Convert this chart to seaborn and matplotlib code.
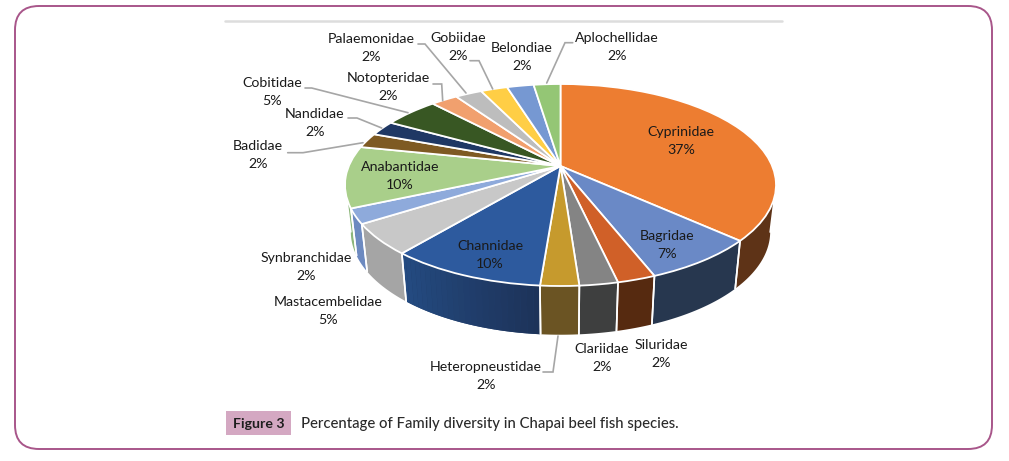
import numpy as np
import matplotlib
matplotlib.use("Agg")
import matplotlib.pyplot as plt
from matplotlib.colors import to_rgb
from matplotlib.patches import FancyBboxPatch, Rectangle
from matplotlib.transforms import Transform, Affine2D
import seaborn as sns

families = ["Cyprinidae", "Bagridae", "Siluridae", "Clariidae", "Heteropneustidae",
            "Channidae", "Mastacembelidae", "Synbranchidae", "Anabantidae", "Badidae",
            "Nandidae", "Cobitidae", "Notopteridae", "Palaemonidae", "Gobiidae",
            "Belondiae", "Aplochellidae"]
percent = [36.6, 7.3, 2.4, 2.4, 2.4, 9.8, 4.9, 2.4, 9.8, 2.4, 2.4, 4.9, 2.4, 2.4, 2.4, 2.4, 2.4]
top_colors = ["#ED7D31", "#6A89C6", "#D06028", "#848484", "#C69A2D", "#2D5A9E", "#C8C8C8",
              "#8EAADB", "#A9CF8A", "#7E5A23", "#1F3864", "#385723", "#F1A06E", "#BDBDBD",
              "#FFCE45", "#7698D2", "#94C675"]
# rim colour at the left and right end of each slice's visible wall
wall_left = ["#5E3317", "#27374F", "#562A10", "#3E3F3F", "#6B5423", "#244B82", "#A5A5A5",
             "#6D8AC0", "#8CB67A", "#5E4318", "#16284A", "#283F19", "#B5774F", "#8C8C8C",
             "#BF9A33", "#587199", "#6F9457"]
wall_right = ["#5E3317", "#27374F", "#562A10", "#3E3F3F", "#6B5423", "#1D3359", "#A5A5A5",
              "#6D8AC0", "#8CB67A", "#5E4318", "#16284A", "#283F19", "#B5774F", "#8C8C8C",
              "#BF9A33", "#587199", "#6F9457"]
label_xy = [(681, 132), (667, 236), (661, 345), (602, 349), (486, 367), (490, 246), (328, 302),
            (306, 258), (400, 167), (258, 146), (315, 114), (272, 83), (388, 78), (371, 39),
            (458, 38), (522, 48), (617, 38)]
leaders = [
    [(572.7, 42.7), (565, 42.7), (546.7, 83)],
    [(470, 60.7), (479, 60.7), (492.7, 89)],
    [(418, 44), (425, 44), (466, 93)],
    [(433, 84), (441.7, 84), (442.7, 100.7)],
    [(305, 88), (311.7, 88), (408, 112.7)],
    [(348, 118), (357, 118), (381.7, 128)],
    [(287.7, 152.7), (303, 152.7), (363, 142.7)],
    [(543, 372), (553, 372), (558, 336)],
]
caption = "Percentage of Family diversity in Chapai beel fish species."
fig_label = "Figure 3"

sns.set_theme(style="white")
plt.rcParams["font.family"] = ["Lato", "DejaVu Sans"]

CX, CY, A, B = 560.5, 185.0, 215.5, 101.0
C = 0.188


class Tilt(Transform):
    """Perspective view of the flat unit-circle pie."""
    input_dims = 2
    output_dims = 2
    is_separable = False
    has_inverse = False

    def transform_non_affine(self, xy):
        xy = np.asarray(xy, dtype=float)
        w = 1 + C * xy[:, 1]
        return np.column_stack([xy[:, 0] * np.sqrt(1 - C ** 2) / w, (xy[:, 1] + C) / w])


fig = plt.figure(figsize=(10.09, 4.61), dpi=100)
ax = fig.add_axes([0, 0, 1, 1])
wedges, _ = ax.pie(percent, colors=sns.color_palette(top_colors), startangle=90, counterclock=False,
                   radius=1, center=(0, 0),
                   wedgeprops=dict(edgecolor="white", linewidth=1.3))
ax.set_aspect("auto")
ax.set_xlim(0, 1009)
ax.set_ylim(461, 0)
ax.axis("off")

tilt = Tilt()
to_pixels = Affine2D().scale(A, -B).translate(CX, CY)
for w in wedges:
    w.set_transform(tilt + to_pixels + ax.transData)
    w.set_zorder(3)

# side wall of each slice: the visible part of its rim, swept down to the lower rim
for w, left, right in zip(wedges, wall_left, wall_right):
    t = np.radians(np.linspace(w.theta1, w.theta2, 120))
    pts = to_pixels.transform(tilt.transform_non_affine(np.column_stack([np.cos(t), np.sin(t)])))
    pts = pts[pts[:, 1] >= CY]
    if len(pts) < 2:
        continue
    low = np.column_stack([CX + 0.973 * (pts[:, 0] - CX), 1.02 * pts[:, 1] + 43.0])
    poly = np.vstack([pts, low[::-1]])
    c0, c1 = np.array(to_rgb(left)), np.array(to_rgb(right))
    ax.fill(poly[:, 0], poly[:, 1], facecolor=(c0 + c1) / 2, edgecolor="none", zorder=1)
    if left != right:
        n = 24
        idx = np.linspace(0, len(pts) - 1, n + 1).astype(int)
        for i in range(n):
            a, b = idx[i], idx[i + 1] + 1
            col = c0 + (c1 - c0) * i / (n - 1)
            quad = np.vstack([pts[a:b], low[a:b][::-1]])
            ax.fill(quad[:, 0], quad[:, 1], facecolor=col, edgecolor="none", zorder=1.5)
    for j in (0, -1):
        ax.plot([pts[j, 0], low[j, 0]], [pts[j, 1], low[j, 1]], color="white", lw=1.2, zorder=2)

for name, p, (x, y) in zip(families, percent, label_xy):
    ax.text(x, y, name, ha="center", va="center", fontsize=10.2, color="#1A1A1A", zorder=5)
    ax.text(x, y + 18, f"{round(p)}%", ha="center", va="center", fontsize=10.2, color="#1A1A1A", zorder=5)

for line in leaders:
    xs, ys = zip(*line)
    ax.plot(xs, ys, color="#A6A6A6", lw=1.2, zorder=4, solid_joinstyle="miter")

ax.add_patch(FancyBboxPatch((15, 6), 977, 443, boxstyle="round,pad=0,rounding_size=24",
                            facecolor="none", edgecolor="#A8568A", linewidth=1.4, zorder=2))
ax.plot([225, 782], [21, 21], color="#DDDDDD", lw=1.8, zorder=2)
ax.add_patch(Rectangle((226, 411), 65, 24, facecolor="#D4A8C2", edgecolor="none", zorder=2))
ax.text(258.5, 423.5, fig_label, ha="center", va="center", fontsize=10.2, fontweight="bold",
        color="#1E1E1E", zorder=5)
ax.text(301, 424, caption, ha="left", va="center", fontsize=10.75, fontweight="medium",
        color="#2A2A2A", zorder=5)

fig.savefig("out.png", dpi=100, facecolor="white")
